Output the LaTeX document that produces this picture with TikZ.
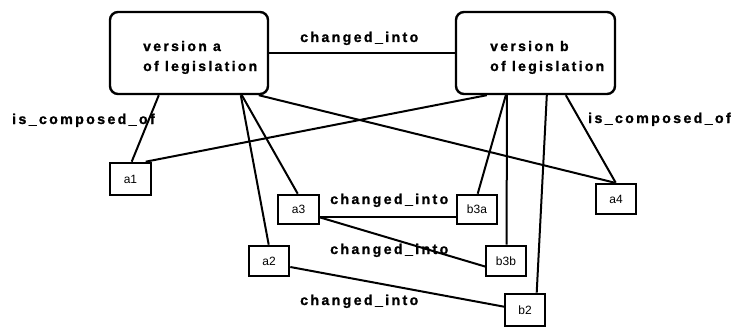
\documentclass[tikz,border=0pt]{standalone}
\usepackage{fontspec}
\setmainfont{Liberation Sans}
\newfontfamily\lblfont[LetterSpace=16.5,FakeBold=1.2]{Liberation Sans Bold}
\begin{document}
\begin{tikzpicture}[x=1pt,y=-1pt,
  bigbox/.style={draw,line width=2.4pt,rounded corners=8pt,inner sep=0pt},
  smallbox/.style={draw,line width=2.6pt,inner sep=0pt,minimum width=40pt,font=\fontsize{12}{12}\selectfont},
  bigtext/.style={anchor=base west,inner sep=0pt,align=left,font=\lblfont\fontsize{14}{20}\selectfont},
  rel/.style={anchor=base west,inner sep=0pt,font=\lblfont\fontsize{14.2}{16}\selectfont},
  conn/.style={line width=2pt}]
\useasboundingbox (0,0) rectangle (736,329);
% big boxes
\node[bigbox,minimum width=158pt,minimum height=82pt] (a) at (189,53) {};
\node[bigbox,minimum width=159pt,minimum height=82pt] (b) at (535.5,53) {};
\node[bigtext] (ta) at (143,71) {version a\\of legislation};
\node[bigtext] (tb) at (490,71) {version b\\of legislation};
% small boxes
\node[smallbox,minimum width=41pt,minimum height=32pt] (a1) at (130.5,179) {a1};
\node[smallbox,minimum width=41pt,minimum height=29pt] (a3) at (298.5,209.5) {a3};
\node[smallbox,minimum height=30pt] (a2) at (269,261) {a2};
\node[smallbox,minimum height=29pt] (b3a) at (477,209.5) {b3a};
\node[smallbox,minimum height=30pt] (b3b) at (506,261) {b3b};
\node[smallbox,minimum height=32pt] (b2) at (525,310) {b2};
\node[smallbox,minimum height=30pt] (a4) at (616,199) {a4};
% connectors
\draw[conn] (a.east) -- (b.west);
\draw[conn] ([xshift=50pt]a.south west) -- ([xshift=23pt]a1.north west);
\draw[conn] ([xshift=132pt]a.south west) -- ([xshift=21pt]a2.north west);
\draw[conn] ([xshift=133pt]a.south west) -- ([xshift=21pt]a3.north west);
\draw[conn] ([xshift=150pt]a.south west) -- ([xshift=20pt]a4.north west);
\draw[conn] ([xshift=32pt]b.south west) -- ([xshift=37pt]a1.north west);
\draw[conn] ([xshift=51pt]b.south west) -- ([xshift=22pt]b3a.north west);
\draw[conn] ([xshift=52pt]b.south west) -- ([xshift=22pt]b3b.north west);
\draw[conn] ([xshift=92pt]b.south west) -- ([xshift=33pt]b2.north west);
\draw[conn] ([xshift=111pt]b.south west) -- ([xshift=21pt]a4.north west);
\draw[conn] ([yshift=-7.5pt]a3.east) -- ([yshift=-7.5pt]b3a.west);
\draw[conn] ([yshift=-8pt]a3.east) -- ([xshift=2pt,yshift=-6pt]b3b.west);
\draw[conn] ([yshift=-6pt]a2.east) -- ([xshift=2pt,yshift=3pt]b2.west);
% labels
\node[rel] (l1) at (300,42) {changed\_into};
\node[rel] (l2) at (330,204) {changed\_into};
\node[rel] (l3) at (330,254) {changed\_into};
\node[rel] (l4) at (300,305) {changed\_into};
\node[rel] (l5) at (12,124) {is\_composed\_of};
\node[rel] (l6) at (588,123) {is\_composed\_of};
\end{tikzpicture}
\end{document}
